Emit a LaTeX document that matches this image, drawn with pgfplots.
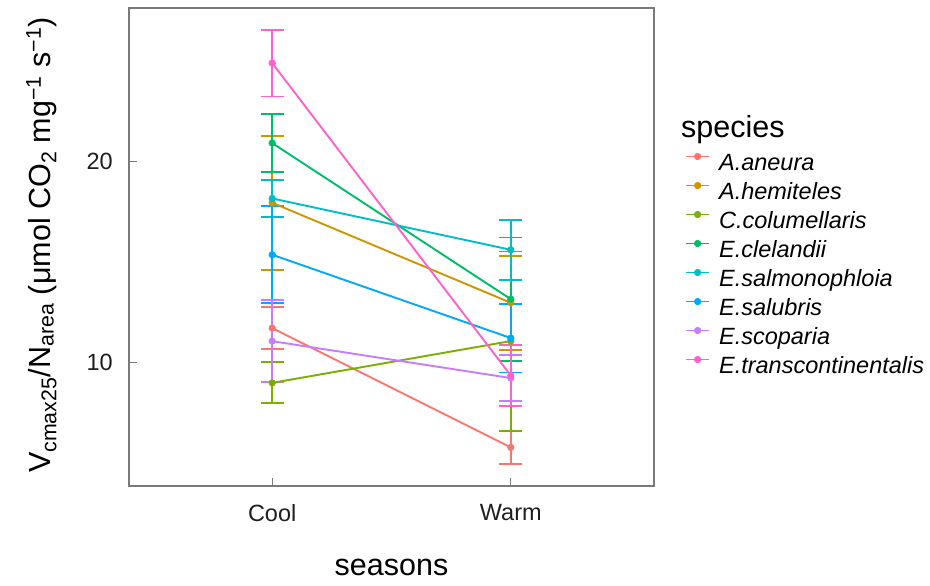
\documentclass[border=0pt]{standalone}
\usepackage{fontspec}
\setmainfont{Liberation Sans}
\usepackage{pgfplots}
\pgfplotsset{compat=1.18}
\definecolor{cA}{HTML}{F8766D}
\definecolor{cB}{HTML}{CD9600}
\definecolor{cC}{HTML}{7CAE00}
\definecolor{cD}{HTML}{00BE67}
\definecolor{cE}{HTML}{00BFC4}
\definecolor{cF}{HTML}{00A9FF}
\definecolor{cG}{HTML}{C77CFF}
\definecolor{cH}{HTML}{FF61CC}
\definecolor{bordergray}{HTML}{7A7A7A}
\definecolor{tickcol}{HTML}{1E1E1E}
\newcommand\ebar[2]{\addplot[forget plot, draw=none, mark=none,
  error bars/.cd, y dir=both, y explicit,
  error bar style={draw=#1, line width=1.8pt, solid},
  error mark options={draw=#1, line width=1.8pt, mark size=11.5pt, rotate=90}]
  coordinates {#2};}
\newcommand\sline[2]{\addplot[draw=#1, line width=1.9pt, mark=*, mark size=3.3pt,
  mark options={fill=#1, draw=#1, line width=0.6pt, solid}]
  coordinates {#2};}
\begin{document}
\begin{tikzpicture}
\useasboundingbox (0pt,0pt) rectangle (930pt,586pt);
\begin{axis}[
  at={(129pt,100pt)}, anchor=south west,
  scale only axis, width=525pt, height=478pt,
  xmin=0.4, xmax=2.6, ymin=3.87, ymax=27.65,
  xtick={1,2}, xticklabels={Cool,Warm},
  ytick={10,20}, yticklabels={10,20},
  xtick pos=lower, ytick pos=left,
  tick align=inside, major tick length=7.5pt,
  axis line style={draw=bordergray, line width=1.3pt},
  every tick/.style={draw=bordergray, line width=1.3pt},
  /pgf/number format/assume math mode=true,
  ticklabel style={font=\fontsize{23.5}{28}\selectfont, text=tickcol},
  xticklabel style={inner sep=0pt, yshift=-18pt},
  yticklabel style={inner sep=0pt, xshift=-16pt},
  legend style={at={(1.059,0.697)}, anchor=north west, draw=none, fill=none,
    inner sep=0pt, font=\fontsize{23.5}{28}\itshape\selectfont, row sep=6pt,
    nodes={inner sep=0pt, text height=17pt, text depth=6pt},
    /tikz/every odd column/.append style={column sep=9pt}},
  legend cell align=left,
  legend image code/.code={\draw[mark repeat=2,mark phase=2,#1] plot coordinates {(0pt,8pt)(11.5pt,8pt)(23pt,8pt)};},
]
% error bars (drawn first)
\ebar{cA}{(1,11.725) +- (0,1.045) (2,5.79) +- (0,0.84)}
\ebar{cB}{(1,17.96) +- (0,3.33) (2,12.985) +- (0,2.335)}
\ebar{cC}{(1,9.00) +- (0,1.02) (2,11.08) +- (0,4.46)}
\ebar{cD}{(1,20.93) +- (0,1.44) (2,13.165) +- (0,3.065)}
\ebar{cE}{(1,18.175) +- (0,0.925) (2,15.62) +- (0,1.49)}
\ebar{cF}{(1,15.375) +- (0,2.405) (2,11.23) +- (0,1.71)}
\ebar{cG}{(1,11.075) +- (0,2.045) (2,9.24) +- (0,1.13)}
\ebar{cH}{(1,24.91) +- (0,1.66) (2,9.365) +- (0,1.535)}
% lines and points
\sline{cA}{(1,11.725) (2,5.79)}
\addlegendentry{A.aneura}
\sline{cB}{(1,17.96) (2,12.985)}
\addlegendentry{A.hemiteles}
\sline{cC}{(1,9.00) (2,11.08)}
\addlegendentry{C.columellaris}
\sline{cD}{(1,20.93) (2,13.165)}
\addlegendentry{E.clelandii}
\sline{cE}{(1,18.175) (2,15.62)}
\addlegendentry{E.salmonophloia}
\sline{cF}{(1,15.375) (2,11.23)}
\addlegendentry{E.salubris}
\sline{cG}{(1,11.075) (2,9.24)}
\addlegendentry{E.scoparia}
\sline{cH}{(1,24.91) (2,9.365)}
\addlegendentry{E.transcontinentalis}
\end{axis}
\node[anchor=base west, inner sep=0pt, font=\fontsize{30.5}{36}\selectfont] at (681pt,448pt) {species};
\node[anchor=base, inner sep=0pt, font=\fontsize{30.5}{36}\selectfont] at (391.5pt,10pt) {seasons};
\node[anchor=base, rotate=90, inner sep=0pt, font=\fontsize{30.5}{36}\selectfont] at (50pt,341pt)
  {V\textsubscript{cmax25}/N\textsubscript{area} (μmol CO\textsubscript{2} mg\textsuperscript{−1} s\textsuperscript{−1})};
\end{tikzpicture}
\end{document}
